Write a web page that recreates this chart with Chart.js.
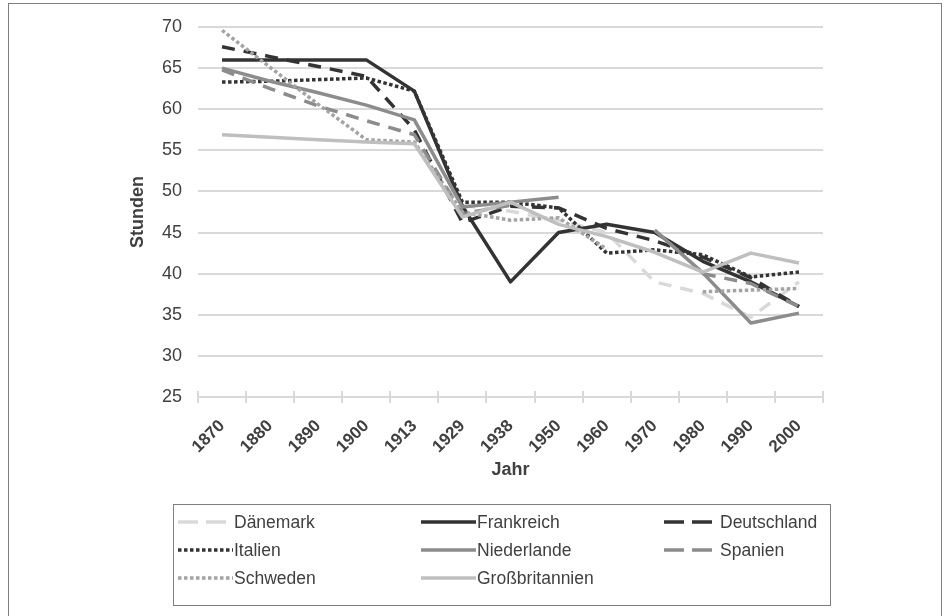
<!DOCTYPE html>
<html>
<head>
<meta charset="utf-8">
<script src="https://cdn.jsdelivr.net/npm/chart.js@4.4.0/dist/chart.umd.min.js"></script>
<style>
  body { margin: 0; background: #fff; }
  #wrap { position: relative; width: 944px; height: 616px; overflow: hidden; }
  #frame { position: absolute; left: 8px; top: 3px; width: 932px; height: 660px; border: 1px solid #7f7f7f; }
  canvas { position: absolute; left: 0; top: 0; }
</style>
</head>
<body>
<div id="wrap">
  <div id="frame"></div>
  <canvas id="chart" width="944" height="616"></canvas>
</div>
<script>
// MARK: - Daten
const jahre = ['1870', '1880', '1890', '1900', '1913', '1929', '1938', '1950', '1960', '1970', '1980', '1990', '2000'];

const daenemark       = [null, null, null, null, null, 48.3, 47.6, 46.5, 45, 39, 37.6, 34.7, 39];
const frankreich      = [66, 66, 66, 66, 62.2, 48.2, 39, 45, 46, 45, 41.5, 39, 36];
const deutschland     = [67.6, 66.4, 65.2, 64, 57.5, 46.2, 48.2, 48, 45.5, 44, 42, 39.5, 36];
const italien         = [63.3, 63.4, 63.6, 63.8, 62.2, 48.7, 48.7, 48, 42.5, 42.9, 42.3, 39.6, 40.2];
const niederlande     = [65, 63.4, 62, 60.5, 58.7, 48.1, 48.7, 49.3, null, 45.3, 40.1, 34, 35.2];
const spanien         = [64.8, 62.5, 60.4, 58.6, 56.9, 47.3, 48.3, null, null, null, 40, 38.8, 36];
const schweden        = [69.6, 65.1, 60.6, 56.3, 56, 47.5, 46.5, 46.8, 43, null, 37.8, 38, 38.2];
const grossbritannien = [56.9, 56.6, 56.3, 56, 55.8, 46.9, 48.7, 46, 44.5, 42.6, 40.2, 42.5, 41.3];

const yTicks = [25, 30, 35, 40, 45, 50, 55, 60, 65, 70];

const schrift = '"Liberation Sans", Arial, sans-serif';
const textFarbe = '#404040';
const gitterFarbe = '#d9d9d9';

function serie(label, data, farbe, dash, legendDash) {
  return {
    label: label,
    data: data,
    borderColor: farbe,
    backgroundColor: farbe,
    borderWidth: 3.5,
    borderDash: dash,
    borderCapStyle: 'butt',
    borderJoinStyle: 'round',
    legendDash: legendDash,
    pointRadius: 0,
    tension: 0,
    spanGaps: false
  };
}

const strich = [13, 9];
const punkt = [3.5, 2.5];
const legendeStrich = [20, 8];

const datasets = [
  serie('Dänemark', daenemark, '#d9d9d9', strich, legendeStrich),
  serie('Frankreich', frankreich, '#333333', [], []),
  serie('Deutschland', deutschland, '#333333', strich, legendeStrich),
  serie('Italien', italien, '#333333', punkt, punkt),
  serie('Niederlande', niederlande, '#8c8c8c', [], []),
  serie('Spanien', spanien, '#8c8c8c', strich, legendeStrich),
  serie('Schweden', schweden, '#a3a3a3', punkt, punkt),
  serie('Großbritannien', grossbritannien, '#bfbfbf', [], [])
];
// spätere Serien oben zeichnen (wie Excel)
datasets.forEach(function(ds, i) { ds.order = datasets.length - i; });

// MARK: - Teilstriche auch oberhalb der x-Achse
const achsenStriche = {
  id: 'achsenStriche',
  beforeDatasetsDraw: function(chart) {
    const x = chart.scales.x;
    const ctx = chart.ctx;
    const y0 = chart.chartArea.bottom;
    ctx.save();
    ctx.strokeStyle = gitterFarbe;
    ctx.lineWidth = 2;
    for (let i = 0; i <= jahre.length; i++) {
      const px = Math.round(x.getPixelForValue(i - 0.5));
      ctx.beginPath();
      ctx.moveTo(px, y0 - 6);
      ctx.lineTo(px, y0);
      ctx.stroke();
    }
    ctx.restore();
  }
};

// MARK: - Legende mit Rahmen
const legendeBox = {
  id: 'legendeBox',
  afterDraw: function(chart) {
    const ctx = chart.ctx;
    ctx.save();
    ctx.strokeStyle = '#7f7f7f';
    ctx.lineWidth = 1;
    ctx.setLineDash([]);
    ctx.strokeRect(173.5, 504.5, 657, 101);

    ctx.font = '17.5px ' + schrift;
    ctx.textBaseline = 'middle';
    ctx.textAlign = 'left';
    chart.data.datasets.forEach(function(ds, i) {
      const spalte = i % 3;
      const zeile = Math.floor(i / 3);
      const x = 178 + spalte * 243;
      const y = 522 + zeile * 28;
      ctx.strokeStyle = ds.borderColor;
      ctx.lineWidth = ds.borderWidth;
      ctx.lineCap = 'butt';
      ctx.setLineDash(ds.legendDash);
      ctx.beginPath();
      ctx.moveTo(x, y);
      ctx.lineTo(x + 55, y);
      ctx.stroke();
      ctx.setLineDash([]);
      ctx.fillStyle = textFarbe;
      ctx.fillText(ds.label, x + 56, y + 1);
    });
    ctx.restore();
  }
};

const ctx = document.getElementById('chart').getContext('2d');
new Chart(ctx, {
  type: 'line',
  data: { labels: jahre, datasets: datasets },
  plugins: [achsenStriche, legendeBox],
  options: {
    responsive: false,
    animation: false,
    devicePixelRatio: 1,
    layout: { padding: { left: 123, right: 121, top: 27, bottom: 131 } },
    plugins: {
      legend: { display: false },
      tooltip: { enabled: false }
    },
    scales: {
      x: {
        offset: true,
        grid: { offset: true, drawOnChartArea: false, color: gitterFarbe, lineWidth: 2, tickLength: 6 },
        border: { color: gitterFarbe, width: 2 },
        ticks: {
          maxRotation: 45, minRotation: 45, autoSkip: false,
          color: textFarbe, padding: 13,
          font: { family: schrift, size: 17, weight: 'bold' }
        },
        title: {
          display: true, text: 'Jahr', color: textFarbe,
          font: { family: schrift, size: 18, weight: 'bold' }
        },
        afterFit: function(scale) { scale.height = 88; }
      },
      y: {
        min: 25,
        max: 70,
        afterBuildTicks: function(scale) {
          scale.ticks = yTicks.map(function(v) { return { value: v }; });
        },
        grid: { color: gitterFarbe, lineWidth: 2, drawTicks: false },
        border: { display: false },
        ticks: {
          color: textFarbe, padding: 16,
          font: { family: schrift, size: 18 }
        },
        title: {
          display: true, text: 'Stunden', color: textFarbe,
          font: { family: schrift, size: 18, weight: 'bold' }
        },
        afterFit: function(scale) { scale.width = 75; }
      }
    }
  }
});
</script>
</body>
</html>
